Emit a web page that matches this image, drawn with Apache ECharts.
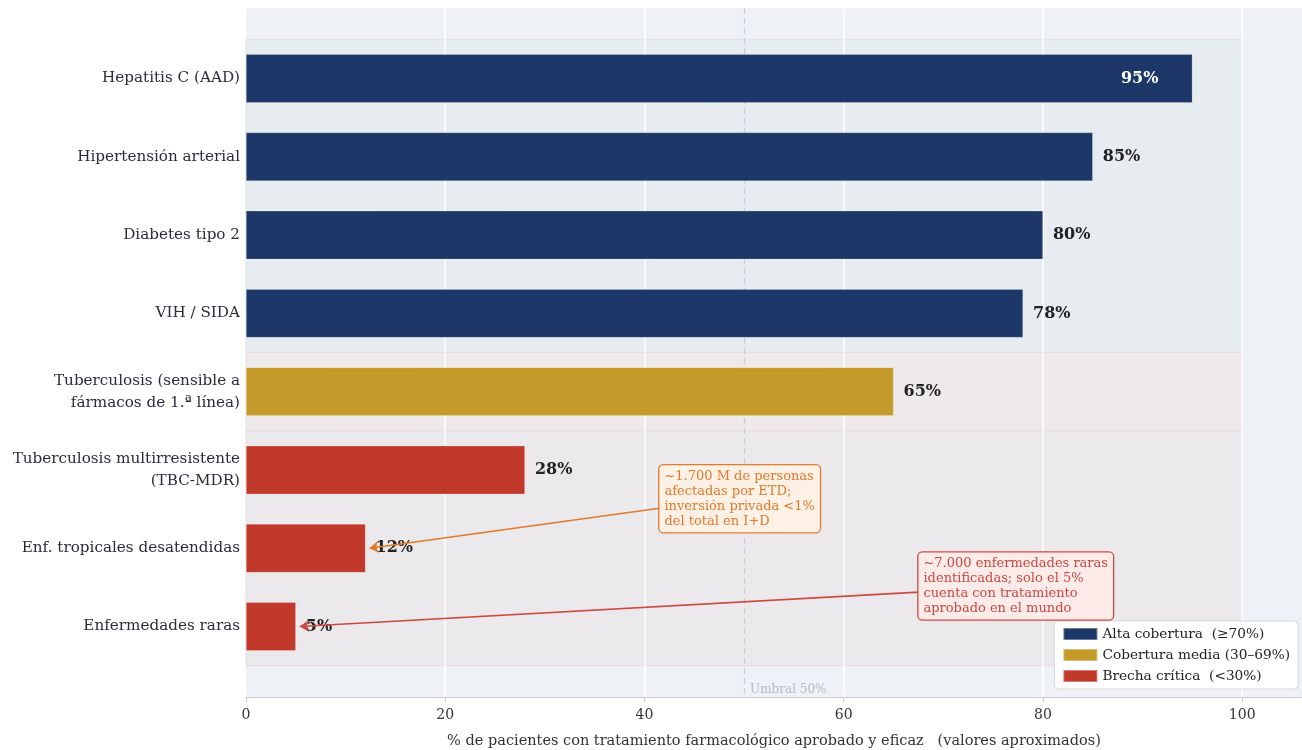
<!DOCTYPE html>
<html>
<head>
<meta charset="utf-8">
<script src="https://cdn.jsdelivr.net/npm/echarts@6/dist/echarts.min.js"></script>
<style>html,body{margin:0;padding:0;background:#fff}#c{width:1302px;height:750px}</style>
</head>
<body>
<div id="c"></div>
<script>
// ---- data ----
const categories = [
  'Hepatitis C (AAD)',
  'Hipertensión arterial',
  'Diabetes tipo 2',
  'VIH / SIDA',
  'Tuberculosis (sensible a\nfármacos de 1.ª línea)',
  'Tuberculosis multirresistente\n(TBC-MDR)',
  'Enf. tropicales desatendidas',
  'Enfermedades raras'
];
const values = [95, 85, 80, 78, 65, 28, 12, 5];
const tiers = ['alta','alta','alta','alta','media','critica','critica','critica'];
const tierNames = {
  alta: 'Alta cobertura  (≥70%)',
  media: 'Cobertura media (30–69%)',
  critica: 'Brecha crítica  (<30%)'
};
const xTicks = [0, 20, 40, 60, 80, 100];
const threshold = 50;
const annotETD = '~1.700 M de personas\nafectadas por ETD;\ninversión privada <1%\ndel total en I+D';
const annotRaras = '~7.000 enfermedades raras\nidentificadas; solo el 5%\ncuenta con tratamiento\naprobado en el mundo';

// ---- styles ----
const colors = { alta: '#1c3768', media: '#c49a2a', critica: '#c0392b' };
const FONT = '"DejaVu Serif", serif';
const X_MAX = 106, Y_MIN = -0.9, Y_MAX = 7.9;
const INSIDE_LIMIT = 90;

const chart = echarts.init(document.getElementById('c'));

function tierSeries(t) {
  return {
    type: 'bar',
    name: tierNames[t],
    xAxisIndex: 1, yAxisIndex: 1,
    barWidth: '62%',
    barGap: '-100%',
    z: 3,
    itemStyle: { color: colors[t], borderColor: 'rgba(255,255,255,0.35)', borderWidth: 0.6 },
    data: values.map((v, i) => (tiers[i] === t ? v : null)),
    labelLine: { show: false },
    label: {
      show: true, position: 'right', distance: 10,
      formatter: p => (p.value > INSIDE_LIMIT ? '' : p.value + '%'),
      fontFamily: FONT, fontWeight: 'bold', fontSize: 16, color: '#222222'
    }
  };
}

const option = {
  animation: false,
  backgroundColor: '#ffffff',
  grid: [
    { left: 246, right: 0, top: 8, bottom: 53, show: true, backgroundColor: '#eef2f6', borderWidth: 0,
      containLabel: false, outerBoundsMode: 'none' },
    { left: 246, right: 0, top: 8 + (0.4 / 8.8) * 689, bottom: 750 - (8 + (8.4 / 8.8) * 689), show: false,
      containLabel: false, outerBoundsMode: 'none' }
  ],
  xAxis: [
    {
      gridIndex: 0, type: 'value', min: 0, max: X_MAX, interval: 20,
      axisLine: { show: true, onZero: false, lineStyle: { color: '#c8cdd6', width: 1 } },
      axisTick: { show: true, length: 5, lineStyle: { color: '#c8cdd6' } },
      splitLine: { show: false },
      axisLabel: {
        fontFamily: FONT, fontSize: 14, color: '#333333', margin: 11,
        showMaxLabel: false,
        formatter: v => (xTicks.indexOf(v) >= 0 ? String(v) : '')
      },
      name: '% de pacientes con tratamiento farmacológico aprobado y eficaz   (valores aproximados)',
      nameLocation: 'middle', nameGap: 37,
      nameTextStyle: { fontFamily: FONT, fontSize: 14.5, color: '#333333' }
    },
    { gridIndex: 1, type: 'value', min: 0, max: X_MAX, show: false, axisLine: { onZero: false }, splitLine: { show: false } }
  ],
  yAxis: [
    { gridIndex: 0, type: 'value', min: Y_MIN, max: Y_MAX, inverse: true, show: false,
      axisLine: { onZero: false }, splitLine: { show: false } },
    {
      gridIndex: 1, type: 'category', data: categories, inverse: true,
      axisLine: { show: false, onZero: false }, axisTick: { show: false },
      axisLabel: { fontFamily: FONT, fontSize: 15.2, color: '#2b2b3b', margin: 6, lineHeight: 22, align: 'right' }
    }
  ],
  legend: {
    orient: 'vertical', right: 4, top: 621,
    backgroundColor: '#ffffff', borderColor: '#d5d9e0', borderWidth: 1, borderRadius: 4,
    padding: [6, 8, 6, 8], itemGap: 7, itemWidth: 34, itemHeight: 12, icon: 'rect',
    textStyle: { fontFamily: FONT, fontSize: 13.7, color: '#222222' },
    data: [tierNames.alta, tierNames.media, tierNames.critica]
  },
  series: [
    {
      type: 'scatter', xAxisIndex: 0, yAxisIndex: 0, data: [], z: 0, silent: true,
      markArea: {
        silent: true, z: 0,
        data: [
          [{ xAxis: 0, yAxis: -0.5, itemStyle: { color: '#e7ecf0', borderColor: '#dde1e6', borderWidth: 1 } }, { xAxis: 100, yAxis: 3.5 }],
          [{ xAxis: 0, yAxis: 3.5, itemStyle: { color: '#eeeaeb', borderColor: '#e8dcdc', borderWidth: 1 } }, { xAxis: 100, yAxis: 4.5 }],
          [{ xAxis: 0, yAxis: 4.5, itemStyle: { color: '#ece9ec', borderColor: '#e8dcdc', borderWidth: 1 } }, { xAxis: 100, yAxis: 7.5 }]
        ]
      }
    },
    {
      type: 'scatter', xAxisIndex: 0, yAxisIndex: 0, data: [], z: 1, silent: true,
      markLine: {
        silent: true, z: 1, symbol: ['none', 'none'], label: { show: false },
        data: xTicks.filter(v => v > 0).map(v => ({ xAxis: v, lineStyle: { color: '#ffffff', width: 1.5, type: 'solid' } }))
          .concat([{ xAxis: threshold, lineStyle: { color: '#c9cdd5', width: 1.3, type: [6, 4] } }])
      }
    },
    tierSeries('alta'),
    tierSeries('media'),
    tierSeries('critica'),
    {
      // transparent overlay carrying the in-bar labels of the longest bars
      type: 'bar', name: 'inside-labels', xAxisIndex: 1, yAxisIndex: 1,
      barWidth: '62%', barGap: '-100%', z: 4, silent: true,
      itemStyle: { color: 'rgba(0,0,0,0)' },
      data: values.map(v => (v > INSIDE_LIMIT ? v : null)),
      labelLine: { show: false },
      label: {
        show: true, position: 'insideRight', distance: 34,
        formatter: p => p.value + '%',
        fontFamily: FONT, fontWeight: 'bold', fontSize: 16, color: '#ffffff'
      }
    },
    {
      type: 'lines', coordinateSystem: 'cartesian2d', xAxisIndex: 0, yAxisIndex: 0, z: 6, silent: true,
      symbol: ['none', 'arrow'], symbolSize: [0, 9],
      data: [
        { coords: [[41.5, 5.49], [12.4, 6.0]], lineStyle: { color: '#e07a2c', width: 1.6, opacity: 1 } },
        { coords: [[67.5, 6.56], [5.4, 7.0]], lineStyle: { color: '#cc4a40', width: 1.6, opacity: 1 } }
      ]
    }
  ]
};
chart.setOption(option);

// annotation boxes & threshold label positioned through the axes
const p1 = chart.convertToPixel({ gridIndex: 0 }, [41.5, 4.94]);
const p2 = chart.convertToPixel({ gridIndex: 0 }, [67.5, 6.055]);
const pU = chart.convertToPixel({ gridIndex: 0 }, [threshold + 0.6, 7.89]);
chart.setOption({
  graphic: [
    {
      type: 'text', x: p1[0], y: p1[1], z: 10,
      style: {
        text: annotETD, font: '13px ' + FONT, fill: '#e07a2c', lineHeight: 15,
        backgroundColor: '#fdf1e6', borderColor: '#e07a2c', borderWidth: 1.3, borderRadius: 4,
        padding: [4, 5, 3, 5], align: 'left', verticalAlign: 'top'
      }
    },
    {
      type: 'text', x: p2[0], y: p2[1], z: 10,
      style: {
        text: annotRaras, font: '13px ' + FONT, fill: '#c94840', lineHeight: 15,
        backgroundColor: '#fdebea', borderColor: '#cc4a40', borderWidth: 1.3, borderRadius: 4,
        padding: [4, 5, 3, 5], align: 'left', verticalAlign: 'top'
      }
    },
    {
      type: 'text', x: pU[0], y: pU[1], z: 10,
      style: { text: 'Umbral 50%', font: '12px ' + FONT, fill: '#b4b9c3', align: 'left', verticalAlign: 'bottom' }
    }
  ]
});
</script>
</body>
</html>
